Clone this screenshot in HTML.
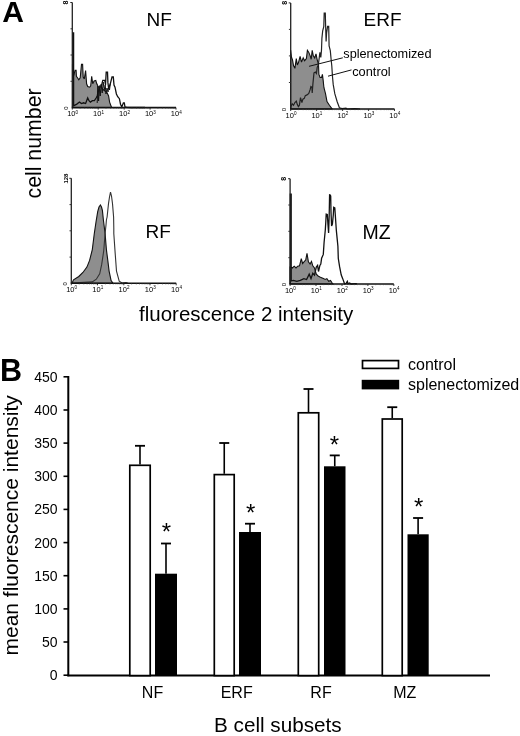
<!DOCTYPE html>
<html><head><meta charset="utf-8"><style>
html,body{margin:0;padding:0;background:#fff;width:520px;height:736px;overflow:hidden}
svg{display:block;filter:grayscale(100%)}
text{font-family:"Liberation Sans",sans-serif;fill:#000}
</style></head><body>
<svg width="520" height="736" viewBox="0 0 520 736">
<polygon points="72.5,107.5 72.5,64.0 73.7,75.6 75.1,70.2 76.1,70.2 76.4,76.3 77.5,77.7 78.8,79.7 80.2,77.7 81.5,64.4 82.6,64.4 83.2,77.0 84.3,79.0 85.6,70.5 86.6,83.8 87.7,86.5 89.7,87.2 90.7,85.8 91.7,76.3 92.7,83.8 94.1,81.0 95.8,80.4 96.8,83.8 97.8,85.8 99.0,88.0 101.0,86.5 103.0,89.5 105.0,91.0 107.0,92.5 108.6,96.0 109.6,102.1 111.6,107.5" fill="#8e8e8e" stroke="#111" stroke-width="1.1" stroke-linejoin="miter" stroke-miterlimit="3"/>
<polyline points="72.8,107.5 72.8,33.0 73.6,33.0 73.6,104.5 74.1,105.5 76.8,104.1 79.5,102.1 81.5,103.5 83.6,102.8 85.6,103.5 87.7,98.0 89.0,100.7 90.4,102.1 92.4,100.7 94.4,100.7 96.1,98.0 97.2,96.0 98.5,90.5 99.9,85.8 101.4,85.8 102.8,80.4 104.8,80.4 105.5,85.0 106.2,72.2 107.5,72.2 107.9,82.4 108.6,88.5 110.3,83.8 112.0,77.0 113.3,77.0 114.0,85.1 115.0,87.2 116.4,94.0 117.7,96.7 119.4,98.7 120.5,104.2 121.8,106.9 123.4,102.8 124.3,102.8 125.0,107.0 127.0,107.3 130.0,107.5 140.0,107.3 145.0,107.5" fill="none" stroke="#111" stroke-width="1.3" stroke-linejoin="miter" stroke-miterlimit="3"/>
<polygon points="290.6,109.0 290.6,50.0 291.5,57.2 292.5,60.0 293.5,65.5 294.9,68.3 296.3,58.6 297.3,64.9 298.4,62.8 300.1,56.5 301.5,62.1 303.2,57.9 304.6,60.7 306.4,58.6 307.4,50.3 308.8,52.4 310.2,55.9 311.2,59.3 312.2,50.3 313.3,55.9 314.7,57.9 316.0,53.8 317.1,59.3 318.5,64.3 318.9,74.4 320.1,77.5 321.6,77.5 322.4,74.4 323.2,80.6 323.9,87.5 325.5,93.7 327.0,101.5 329.4,105.3 331.7,108.4 332.5,109.0" fill="#8e8e8e" stroke="#111" stroke-width="1.1" stroke-linejoin="miter" stroke-miterlimit="3"/>
<polyline points="290.8,108.5 290.8,106.7 292.2,103.9 293.5,105.3 294.9,102.5 296.3,101.2 297.3,104.6 298.4,106.7 299.4,105.3 300.5,97.7 301.9,102.5 302.9,99.1 304.3,98.4 305.3,95.6 307.0,94.9 308.8,93.5 310.2,89.4 310.9,86.6 311.9,87.3 312.2,92.9 312.9,83.9 313.6,76.9 314.0,72.8 315.4,72.1 316.4,73.5 317.2,67.3 318.3,65.0 319.9,52.4 320.8,57.5 321.5,49.9 321.9,38.4 322.7,30.8 323.8,26.3 324.2,13.0 325.3,13.0 325.6,25.0 326.1,41.5 326.6,33.0 327.6,26.3 328.7,26.3 329.1,46.0 330.3,50.6 331.0,58.2 331.8,66.0 332.5,76.7 333.2,84.4 334.8,93.7 337.1,101.5 339.4,107.7 342.0,108.6 346.0,108.2 347.0,109.0 355.0,108.7 360.0,109.0" fill="none" stroke="#222" stroke-width="1.2" stroke-linejoin="miter" stroke-miterlimit="3"/>
<polygon points="72.0,283.3 73.5,279.9 78.8,276.5 82.9,272.5 86.9,267.1 89.6,260.4 92.3,249.6 94.3,233.5 96.0,222.0 97.7,211.7 99.0,207.0 100.4,205.0 101.5,207.0 102.4,210.4 103.4,220.0 105.1,233.5 106.4,249.6 107.8,260.4 109.1,271.1 111.1,280.6 113.0,283.3" fill="#8e8e8e" stroke="#111" stroke-width="1.1" stroke-linejoin="miter" stroke-miterlimit="3"/>
<polyline points="72.0,283.3 80.0,282.5 92.3,281.9 96.3,279.2 99.7,273.8 101.7,264.4 103.7,251.0 105.1,233.5 106.0,225.0 106.4,220.0 107.1,217.0 108.5,203.6 109.5,197.0 110.5,192.2 111.5,196.0 112.5,203.6 113.6,217.0 113.8,228.0 113.8,233.5 115.2,253.6 116.5,271.1 119.2,281.2 122.0,283.0 126.0,282.5 128.0,283.3" fill="none" stroke="#333" stroke-width="1.1" stroke-linejoin="miter" stroke-miterlimit="3"/>
<polygon points="290.1,284.0 290.1,267.1 290.7,267.1 292.4,268.0 294.2,266.2 296.0,268.0 297.7,266.2 299.5,265.8 301.3,258.7 302.6,263.6 304.4,261.4 305.7,260.0 307.0,253.4 308.4,261.8 310.1,264.0 311.5,261.4 312.8,265.8 314.5,268.0 316.3,274.2 318.1,276.0 319.9,276.9 321.6,277.7 323.4,278.6 325.2,279.5 326.9,278.6 328.7,281.3 330.5,280.4 332.2,283.0 333.0,284.0" fill="#8e8e8e" stroke="#111" stroke-width="1.1" stroke-linejoin="miter" stroke-miterlimit="3"/>
<polyline points="290.3,284.0 290.3,194.2 291.2,194.2 291.2,281.0 293.3,280.4 296.8,281.3 300.3,280.4 303.9,278.6 306.6,279.5 309.2,274.2 311.0,278.6 312.8,273.3 314.5,275.1 316.3,267.1 317.6,265.4 318.5,271.5 319.9,265.4 320.8,264.0 321.6,258.3 322.4,256.5 323.3,254.4 324.1,242.2 325.3,230.0 325.8,222.0 326.2,214.2 327.3,214.5 328.0,225.0 328.6,233.0 329.2,215.0 329.6,194.3 330.7,196.0 331.0,212.0 331.6,226.0 332.4,224.0 333.3,215.0 333.7,207.4 334.8,208.0 335.3,215.0 336.3,230.0 337.1,238.1 337.9,246.3 338.3,258.5 339.6,266.7 341.2,274.8 342.8,278.9 344.0,282.2 344.6,284.0 346.0,283.5 347.3,281.3 348.0,283.8 349.7,283.0 351.0,284.0 356.0,283.6 357.0,284.0" fill="none" stroke="#111" stroke-width="1.3" stroke-linejoin="miter" stroke-miterlimit="3"/>
<line x1="72.3" y1="2.5" x2="72.3" y2="107.6" stroke="#222" stroke-width="1.3"/>
<line x1="70.3" y1="2.5" x2="72.3" y2="2.5" stroke="#222" stroke-width="1"/>
<line x1="70.5" y1="28.8" x2="72.3" y2="28.8" stroke="#333" stroke-width="1"/>
<line x1="70.5" y1="55.0" x2="72.3" y2="55.0" stroke="#333" stroke-width="1"/>
<line x1="70.5" y1="81.3" x2="72.3" y2="81.3" stroke="#333" stroke-width="1"/>
<line x1="71.7" y1="107.6" x2="176" y2="107.6" stroke="#111" stroke-width="1.6"/>
<line x1="72.3" y1="107.6" x2="72.3" y2="109.6" stroke="#222" stroke-width="0.9"/>
<text x="72.6" y="116.3" font-size="7.5" text-anchor="middle" fill="#222">10<tspan font-size="4.6" dy="-2.8">0</tspan></text>
<line x1="98.2" y1="107.6" x2="98.2" y2="109.6" stroke="#222" stroke-width="0.9"/>
<text x="98.5" y="116.3" font-size="7.5" text-anchor="middle" fill="#222">10<tspan font-size="4.6" dy="-2.8">1</tspan></text>
<line x1="124.2" y1="107.6" x2="124.2" y2="109.6" stroke="#222" stroke-width="0.9"/>
<text x="124.5" y="116.3" font-size="7.5" text-anchor="middle" fill="#222">10<tspan font-size="4.6" dy="-2.8">2</tspan></text>
<line x1="150.1" y1="107.6" x2="150.1" y2="109.6" stroke="#222" stroke-width="0.9"/>
<text x="150.4" y="116.3" font-size="7.5" text-anchor="middle" fill="#222">10<tspan font-size="4.6" dy="-2.8">3</tspan></text>
<line x1="176.0" y1="107.6" x2="176.0" y2="109.6" stroke="#222" stroke-width="0.9"/>
<text x="176.3" y="116.3" font-size="7.5" text-anchor="middle" fill="#222">10<tspan font-size="4.6" dy="-2.8">4</tspan></text>
<line x1="80.1" y1="107.6" x2="80.1" y2="108.8" stroke="#444" stroke-width="0.6"/>
<line x1="84.7" y1="107.6" x2="84.7" y2="108.8" stroke="#444" stroke-width="0.6"/>
<line x1="87.9" y1="107.6" x2="87.9" y2="108.8" stroke="#444" stroke-width="0.6"/>
<line x1="90.4" y1="107.6" x2="90.4" y2="108.8" stroke="#444" stroke-width="0.6"/>
<line x1="92.5" y1="107.6" x2="92.5" y2="108.8" stroke="#444" stroke-width="0.6"/>
<line x1="94.2" y1="107.6" x2="94.2" y2="108.8" stroke="#444" stroke-width="0.6"/>
<line x1="95.7" y1="107.6" x2="95.7" y2="108.8" stroke="#444" stroke-width="0.6"/>
<line x1="97.0" y1="107.6" x2="97.0" y2="108.8" stroke="#444" stroke-width="0.6"/>
<line x1="106.0" y1="107.6" x2="106.0" y2="108.8" stroke="#444" stroke-width="0.6"/>
<line x1="110.6" y1="107.6" x2="110.6" y2="108.8" stroke="#444" stroke-width="0.6"/>
<line x1="113.8" y1="107.6" x2="113.8" y2="108.8" stroke="#444" stroke-width="0.6"/>
<line x1="116.3" y1="107.6" x2="116.3" y2="108.8" stroke="#444" stroke-width="0.6"/>
<line x1="118.4" y1="107.6" x2="118.4" y2="108.8" stroke="#444" stroke-width="0.6"/>
<line x1="120.1" y1="107.6" x2="120.1" y2="108.8" stroke="#444" stroke-width="0.6"/>
<line x1="121.6" y1="107.6" x2="121.6" y2="108.8" stroke="#444" stroke-width="0.6"/>
<line x1="123.0" y1="107.6" x2="123.0" y2="108.8" stroke="#444" stroke-width="0.6"/>
<line x1="132.0" y1="107.6" x2="132.0" y2="108.8" stroke="#444" stroke-width="0.6"/>
<line x1="136.5" y1="107.6" x2="136.5" y2="108.8" stroke="#444" stroke-width="0.6"/>
<line x1="139.8" y1="107.6" x2="139.8" y2="108.8" stroke="#444" stroke-width="0.6"/>
<line x1="142.3" y1="107.6" x2="142.3" y2="108.8" stroke="#444" stroke-width="0.6"/>
<line x1="144.3" y1="107.6" x2="144.3" y2="108.8" stroke="#444" stroke-width="0.6"/>
<line x1="146.1" y1="107.6" x2="146.1" y2="108.8" stroke="#444" stroke-width="0.6"/>
<line x1="147.6" y1="107.6" x2="147.6" y2="108.8" stroke="#444" stroke-width="0.6"/>
<line x1="148.9" y1="107.6" x2="148.9" y2="108.8" stroke="#444" stroke-width="0.6"/>
<line x1="157.9" y1="107.6" x2="157.9" y2="108.8" stroke="#444" stroke-width="0.6"/>
<line x1="162.4" y1="107.6" x2="162.4" y2="108.8" stroke="#444" stroke-width="0.6"/>
<line x1="165.7" y1="107.6" x2="165.7" y2="108.8" stroke="#444" stroke-width="0.6"/>
<line x1="168.2" y1="107.6" x2="168.2" y2="108.8" stroke="#444" stroke-width="0.6"/>
<line x1="170.2" y1="107.6" x2="170.2" y2="108.8" stroke="#444" stroke-width="0.6"/>
<line x1="172.0" y1="107.6" x2="172.0" y2="108.8" stroke="#444" stroke-width="0.6"/>
<line x1="173.5" y1="107.6" x2="173.5" y2="108.8" stroke="#444" stroke-width="0.6"/>
<line x1="174.8" y1="107.6" x2="174.8" y2="108.8" stroke="#444" stroke-width="0.6"/>
<text transform="translate(67.8,108.1) rotate(-90)" font-size="6" text-anchor="middle" fill="#222">0</text>
<text transform="translate(65.7,2.5) rotate(-90)" font-size="7" font-weight="bold" text-anchor="middle" dominant-baseline="central" fill="#222">8</text>
<line x1="290.7" y1="2.9" x2="290.7" y2="109" stroke="#222" stroke-width="1.3"/>
<line x1="288.7" y1="2.9" x2="290.7" y2="2.9" stroke="#222" stroke-width="1"/>
<line x1="288.9" y1="29.4" x2="290.7" y2="29.4" stroke="#333" stroke-width="1"/>
<line x1="288.9" y1="55.9" x2="290.7" y2="55.9" stroke="#333" stroke-width="1"/>
<line x1="288.9" y1="82.5" x2="290.7" y2="82.5" stroke="#333" stroke-width="1"/>
<line x1="290.09999999999997" y1="109" x2="394.5" y2="109" stroke="#111" stroke-width="1.6"/>
<line x1="290.7" y1="109" x2="290.7" y2="111" stroke="#222" stroke-width="0.9"/>
<text x="291.0" y="117.7" font-size="7.5" text-anchor="middle" fill="#222">10<tspan font-size="4.6" dy="-2.8">0</tspan></text>
<line x1="316.6" y1="109" x2="316.6" y2="111" stroke="#222" stroke-width="0.9"/>
<text x="316.9" y="117.7" font-size="7.5" text-anchor="middle" fill="#222">10<tspan font-size="4.6" dy="-2.8">1</tspan></text>
<line x1="342.6" y1="109" x2="342.6" y2="111" stroke="#222" stroke-width="0.9"/>
<text x="342.9" y="117.7" font-size="7.5" text-anchor="middle" fill="#222">10<tspan font-size="4.6" dy="-2.8">2</tspan></text>
<line x1="368.6" y1="109" x2="368.6" y2="111" stroke="#222" stroke-width="0.9"/>
<text x="368.9" y="117.7" font-size="7.5" text-anchor="middle" fill="#222">10<tspan font-size="4.6" dy="-2.8">3</tspan></text>
<line x1="394.5" y1="109" x2="394.5" y2="111" stroke="#222" stroke-width="0.9"/>
<text x="394.8" y="117.7" font-size="7.5" text-anchor="middle" fill="#222">10<tspan font-size="4.6" dy="-2.8">4</tspan></text>
<line x1="298.5" y1="109" x2="298.5" y2="110.2" stroke="#444" stroke-width="0.6"/>
<line x1="303.1" y1="109" x2="303.1" y2="110.2" stroke="#444" stroke-width="0.6"/>
<line x1="306.3" y1="109" x2="306.3" y2="110.2" stroke="#444" stroke-width="0.6"/>
<line x1="308.8" y1="109" x2="308.8" y2="110.2" stroke="#444" stroke-width="0.6"/>
<line x1="310.9" y1="109" x2="310.9" y2="110.2" stroke="#444" stroke-width="0.6"/>
<line x1="312.6" y1="109" x2="312.6" y2="110.2" stroke="#444" stroke-width="0.6"/>
<line x1="314.1" y1="109" x2="314.1" y2="110.2" stroke="#444" stroke-width="0.6"/>
<line x1="315.5" y1="109" x2="315.5" y2="110.2" stroke="#444" stroke-width="0.6"/>
<line x1="324.5" y1="109" x2="324.5" y2="110.2" stroke="#444" stroke-width="0.6"/>
<line x1="329.0" y1="109" x2="329.0" y2="110.2" stroke="#444" stroke-width="0.6"/>
<line x1="332.3" y1="109" x2="332.3" y2="110.2" stroke="#444" stroke-width="0.6"/>
<line x1="334.8" y1="109" x2="334.8" y2="110.2" stroke="#444" stroke-width="0.6"/>
<line x1="336.8" y1="109" x2="336.8" y2="110.2" stroke="#444" stroke-width="0.6"/>
<line x1="338.6" y1="109" x2="338.6" y2="110.2" stroke="#444" stroke-width="0.6"/>
<line x1="340.1" y1="109" x2="340.1" y2="110.2" stroke="#444" stroke-width="0.6"/>
<line x1="341.4" y1="109" x2="341.4" y2="110.2" stroke="#444" stroke-width="0.6"/>
<line x1="350.4" y1="109" x2="350.4" y2="110.2" stroke="#444" stroke-width="0.6"/>
<line x1="355.0" y1="109" x2="355.0" y2="110.2" stroke="#444" stroke-width="0.6"/>
<line x1="358.2" y1="109" x2="358.2" y2="110.2" stroke="#444" stroke-width="0.6"/>
<line x1="360.7" y1="109" x2="360.7" y2="110.2" stroke="#444" stroke-width="0.6"/>
<line x1="362.8" y1="109" x2="362.8" y2="110.2" stroke="#444" stroke-width="0.6"/>
<line x1="364.5" y1="109" x2="364.5" y2="110.2" stroke="#444" stroke-width="0.6"/>
<line x1="366.0" y1="109" x2="366.0" y2="110.2" stroke="#444" stroke-width="0.6"/>
<line x1="367.4" y1="109" x2="367.4" y2="110.2" stroke="#444" stroke-width="0.6"/>
<line x1="376.4" y1="109" x2="376.4" y2="110.2" stroke="#444" stroke-width="0.6"/>
<line x1="380.9" y1="109" x2="380.9" y2="110.2" stroke="#444" stroke-width="0.6"/>
<line x1="384.2" y1="109" x2="384.2" y2="110.2" stroke="#444" stroke-width="0.6"/>
<line x1="386.7" y1="109" x2="386.7" y2="110.2" stroke="#444" stroke-width="0.6"/>
<line x1="388.7" y1="109" x2="388.7" y2="110.2" stroke="#444" stroke-width="0.6"/>
<line x1="390.5" y1="109" x2="390.5" y2="110.2" stroke="#444" stroke-width="0.6"/>
<line x1="392.0" y1="109" x2="392.0" y2="110.2" stroke="#444" stroke-width="0.6"/>
<line x1="393.3" y1="109" x2="393.3" y2="110.2" stroke="#444" stroke-width="0.6"/>
<text transform="translate(286.2,109.5) rotate(-90)" font-size="6" text-anchor="middle" fill="#222">0</text>
<text transform="translate(284.09999999999997,2.9) rotate(-90)" font-size="7" font-weight="bold" text-anchor="middle" dominant-baseline="central" fill="#222">8</text>
<line x1="71.3" y1="178.3" x2="71.3" y2="283.3" stroke="#222" stroke-width="1.3"/>
<line x1="69.3" y1="178.3" x2="71.3" y2="178.3" stroke="#222" stroke-width="1"/>
<line x1="69.5" y1="204.6" x2="71.3" y2="204.6" stroke="#333" stroke-width="1"/>
<line x1="69.5" y1="230.8" x2="71.3" y2="230.8" stroke="#333" stroke-width="1"/>
<line x1="69.5" y1="257.1" x2="71.3" y2="257.1" stroke="#333" stroke-width="1"/>
<line x1="70.7" y1="283.3" x2="176.2" y2="283.3" stroke="#111" stroke-width="1.6"/>
<line x1="71.3" y1="283.3" x2="71.3" y2="285.3" stroke="#222" stroke-width="0.9"/>
<text x="71.6" y="292.0" font-size="7.5" text-anchor="middle" fill="#222">10<tspan font-size="4.6" dy="-2.8">0</tspan></text>
<line x1="97.5" y1="283.3" x2="97.5" y2="285.3" stroke="#222" stroke-width="0.9"/>
<text x="97.8" y="292.0" font-size="7.5" text-anchor="middle" fill="#222">10<tspan font-size="4.6" dy="-2.8">1</tspan></text>
<line x1="123.8" y1="283.3" x2="123.8" y2="285.3" stroke="#222" stroke-width="0.9"/>
<text x="124.0" y="292.0" font-size="7.5" text-anchor="middle" fill="#222">10<tspan font-size="4.6" dy="-2.8">2</tspan></text>
<line x1="150.0" y1="283.3" x2="150.0" y2="285.3" stroke="#222" stroke-width="0.9"/>
<text x="150.3" y="292.0" font-size="7.5" text-anchor="middle" fill="#222">10<tspan font-size="4.6" dy="-2.8">3</tspan></text>
<line x1="176.2" y1="283.3" x2="176.2" y2="285.3" stroke="#222" stroke-width="0.9"/>
<text x="176.5" y="292.0" font-size="7.5" text-anchor="middle" fill="#222">10<tspan font-size="4.6" dy="-2.8">4</tspan></text>
<line x1="79.2" y1="283.3" x2="79.2" y2="284.5" stroke="#444" stroke-width="0.6"/>
<line x1="83.8" y1="283.3" x2="83.8" y2="284.5" stroke="#444" stroke-width="0.6"/>
<line x1="87.1" y1="283.3" x2="87.1" y2="284.5" stroke="#444" stroke-width="0.6"/>
<line x1="89.6" y1="283.3" x2="89.6" y2="284.5" stroke="#444" stroke-width="0.6"/>
<line x1="91.7" y1="283.3" x2="91.7" y2="284.5" stroke="#444" stroke-width="0.6"/>
<line x1="93.5" y1="283.3" x2="93.5" y2="284.5" stroke="#444" stroke-width="0.6"/>
<line x1="95.0" y1="283.3" x2="95.0" y2="284.5" stroke="#444" stroke-width="0.6"/>
<line x1="96.3" y1="283.3" x2="96.3" y2="284.5" stroke="#444" stroke-width="0.6"/>
<line x1="105.4" y1="283.3" x2="105.4" y2="284.5" stroke="#444" stroke-width="0.6"/>
<line x1="110.0" y1="283.3" x2="110.0" y2="284.5" stroke="#444" stroke-width="0.6"/>
<line x1="113.3" y1="283.3" x2="113.3" y2="284.5" stroke="#444" stroke-width="0.6"/>
<line x1="115.9" y1="283.3" x2="115.9" y2="284.5" stroke="#444" stroke-width="0.6"/>
<line x1="117.9" y1="283.3" x2="117.9" y2="284.5" stroke="#444" stroke-width="0.6"/>
<line x1="119.7" y1="283.3" x2="119.7" y2="284.5" stroke="#444" stroke-width="0.6"/>
<line x1="121.2" y1="283.3" x2="121.2" y2="284.5" stroke="#444" stroke-width="0.6"/>
<line x1="122.6" y1="283.3" x2="122.6" y2="284.5" stroke="#444" stroke-width="0.6"/>
<line x1="131.6" y1="283.3" x2="131.6" y2="284.5" stroke="#444" stroke-width="0.6"/>
<line x1="136.3" y1="283.3" x2="136.3" y2="284.5" stroke="#444" stroke-width="0.6"/>
<line x1="139.5" y1="283.3" x2="139.5" y2="284.5" stroke="#444" stroke-width="0.6"/>
<line x1="142.1" y1="283.3" x2="142.1" y2="284.5" stroke="#444" stroke-width="0.6"/>
<line x1="144.2" y1="283.3" x2="144.2" y2="284.5" stroke="#444" stroke-width="0.6"/>
<line x1="145.9" y1="283.3" x2="145.9" y2="284.5" stroke="#444" stroke-width="0.6"/>
<line x1="147.4" y1="283.3" x2="147.4" y2="284.5" stroke="#444" stroke-width="0.6"/>
<line x1="148.8" y1="283.3" x2="148.8" y2="284.5" stroke="#444" stroke-width="0.6"/>
<line x1="157.9" y1="283.3" x2="157.9" y2="284.5" stroke="#444" stroke-width="0.6"/>
<line x1="162.5" y1="283.3" x2="162.5" y2="284.5" stroke="#444" stroke-width="0.6"/>
<line x1="165.8" y1="283.3" x2="165.8" y2="284.5" stroke="#444" stroke-width="0.6"/>
<line x1="168.3" y1="283.3" x2="168.3" y2="284.5" stroke="#444" stroke-width="0.6"/>
<line x1="170.4" y1="283.3" x2="170.4" y2="284.5" stroke="#444" stroke-width="0.6"/>
<line x1="172.1" y1="283.3" x2="172.1" y2="284.5" stroke="#444" stroke-width="0.6"/>
<line x1="173.7" y1="283.3" x2="173.7" y2="284.5" stroke="#444" stroke-width="0.6"/>
<line x1="175.0" y1="283.3" x2="175.0" y2="284.5" stroke="#444" stroke-width="0.6"/>
<text transform="translate(66.8,283.8) rotate(-90)" font-size="6" text-anchor="middle" fill="#222">0</text>
<text transform="translate(66.3,178.60000000000002) rotate(-90)" font-size="6" font-weight="bold" text-anchor="middle" dominant-baseline="central" fill="#222">128</text>
<line x1="290.1" y1="178.7" x2="290.1" y2="284" stroke="#222" stroke-width="1.3"/>
<line x1="288.1" y1="178.7" x2="290.1" y2="178.7" stroke="#222" stroke-width="1"/>
<line x1="288.3" y1="205.0" x2="290.1" y2="205.0" stroke="#333" stroke-width="1"/>
<line x1="288.3" y1="231.3" x2="290.1" y2="231.3" stroke="#333" stroke-width="1"/>
<line x1="288.3" y1="257.7" x2="290.1" y2="257.7" stroke="#333" stroke-width="1"/>
<line x1="289.5" y1="284" x2="393.8" y2="284" stroke="#111" stroke-width="1.6"/>
<line x1="290.1" y1="284" x2="290.1" y2="286" stroke="#222" stroke-width="0.9"/>
<text x="290.4" y="292.7" font-size="7.5" text-anchor="middle" fill="#222">10<tspan font-size="4.6" dy="-2.8">0</tspan></text>
<line x1="316.0" y1="284" x2="316.0" y2="286" stroke="#222" stroke-width="0.9"/>
<text x="316.3" y="292.7" font-size="7.5" text-anchor="middle" fill="#222">10<tspan font-size="4.6" dy="-2.8">1</tspan></text>
<line x1="342.0" y1="284" x2="342.0" y2="286" stroke="#222" stroke-width="0.9"/>
<text x="342.3" y="292.7" font-size="7.5" text-anchor="middle" fill="#222">10<tspan font-size="4.6" dy="-2.8">2</tspan></text>
<line x1="367.9" y1="284" x2="367.9" y2="286" stroke="#222" stroke-width="0.9"/>
<text x="368.2" y="292.7" font-size="7.5" text-anchor="middle" fill="#222">10<tspan font-size="4.6" dy="-2.8">3</tspan></text>
<line x1="393.8" y1="284" x2="393.8" y2="286" stroke="#222" stroke-width="0.9"/>
<text x="394.1" y="292.7" font-size="7.5" text-anchor="middle" fill="#222">10<tspan font-size="4.6" dy="-2.8">4</tspan></text>
<line x1="297.9" y1="284" x2="297.9" y2="285.2" stroke="#444" stroke-width="0.6"/>
<line x1="302.5" y1="284" x2="302.5" y2="285.2" stroke="#444" stroke-width="0.6"/>
<line x1="305.7" y1="284" x2="305.7" y2="285.2" stroke="#444" stroke-width="0.6"/>
<line x1="308.2" y1="284" x2="308.2" y2="285.2" stroke="#444" stroke-width="0.6"/>
<line x1="310.3" y1="284" x2="310.3" y2="285.2" stroke="#444" stroke-width="0.6"/>
<line x1="312.0" y1="284" x2="312.0" y2="285.2" stroke="#444" stroke-width="0.6"/>
<line x1="313.5" y1="284" x2="313.5" y2="285.2" stroke="#444" stroke-width="0.6"/>
<line x1="314.8" y1="284" x2="314.8" y2="285.2" stroke="#444" stroke-width="0.6"/>
<line x1="323.8" y1="284" x2="323.8" y2="285.2" stroke="#444" stroke-width="0.6"/>
<line x1="328.4" y1="284" x2="328.4" y2="285.2" stroke="#444" stroke-width="0.6"/>
<line x1="331.6" y1="284" x2="331.6" y2="285.2" stroke="#444" stroke-width="0.6"/>
<line x1="334.1" y1="284" x2="334.1" y2="285.2" stroke="#444" stroke-width="0.6"/>
<line x1="336.2" y1="284" x2="336.2" y2="285.2" stroke="#444" stroke-width="0.6"/>
<line x1="337.9" y1="284" x2="337.9" y2="285.2" stroke="#444" stroke-width="0.6"/>
<line x1="339.4" y1="284" x2="339.4" y2="285.2" stroke="#444" stroke-width="0.6"/>
<line x1="340.8" y1="284" x2="340.8" y2="285.2" stroke="#444" stroke-width="0.6"/>
<line x1="349.8" y1="284" x2="349.8" y2="285.2" stroke="#444" stroke-width="0.6"/>
<line x1="354.3" y1="284" x2="354.3" y2="285.2" stroke="#444" stroke-width="0.6"/>
<line x1="357.6" y1="284" x2="357.6" y2="285.2" stroke="#444" stroke-width="0.6"/>
<line x1="360.1" y1="284" x2="360.1" y2="285.2" stroke="#444" stroke-width="0.6"/>
<line x1="362.1" y1="284" x2="362.1" y2="285.2" stroke="#444" stroke-width="0.6"/>
<line x1="363.9" y1="284" x2="363.9" y2="285.2" stroke="#444" stroke-width="0.6"/>
<line x1="365.4" y1="284" x2="365.4" y2="285.2" stroke="#444" stroke-width="0.6"/>
<line x1="366.7" y1="284" x2="366.7" y2="285.2" stroke="#444" stroke-width="0.6"/>
<line x1="375.7" y1="284" x2="375.7" y2="285.2" stroke="#444" stroke-width="0.6"/>
<line x1="380.2" y1="284" x2="380.2" y2="285.2" stroke="#444" stroke-width="0.6"/>
<line x1="383.5" y1="284" x2="383.5" y2="285.2" stroke="#444" stroke-width="0.6"/>
<line x1="386.0" y1="284" x2="386.0" y2="285.2" stroke="#444" stroke-width="0.6"/>
<line x1="388.0" y1="284" x2="388.0" y2="285.2" stroke="#444" stroke-width="0.6"/>
<line x1="389.8" y1="284" x2="389.8" y2="285.2" stroke="#444" stroke-width="0.6"/>
<line x1="391.3" y1="284" x2="391.3" y2="285.2" stroke="#444" stroke-width="0.6"/>
<line x1="392.6" y1="284" x2="392.6" y2="285.2" stroke="#444" stroke-width="0.6"/>
<text transform="translate(285.6,284.5) rotate(-90)" font-size="6" text-anchor="middle" fill="#222">0</text>
<text transform="translate(283.5,178.7) rotate(-90)" font-size="7" font-weight="bold" text-anchor="middle" dominant-baseline="central" fill="#222">8</text>
<polyline points="97.2,103.0 97.8,86.0 98.6,101.0 99.4,88.0 100.2,96.0 101.2,84.0 102.2,93.0 103.2,82.0 104.2,90.0 105.2,85.0 106.0,94.0 107.0,88.0 108.0,92.0 108.8,86.0 109.5,90.0 110.3,84.0" fill="none" stroke="#111" stroke-width="1"/>
<line x1="342.8" y1="57.8" x2="309.1" y2="66.3" stroke="#111" stroke-width="1"/>
<line x1="351.5" y1="69.9" x2="328" y2="76.2" stroke="#111" stroke-width="1"/>
<text x="146.6" y="25.8" font-size="19">NF</text>
<text x="363.5" y="26.2" font-size="19">ERF</text>
<text x="145.5" y="238.1" font-size="19">RF</text>
<text x="362.4" y="238.7" font-size="19.5">MZ</text>
<text x="343.3" y="58" font-size="12.7">splenectomized</text>
<text x="352.2" y="76.2" font-size="12.8">control</text>
<text x="2.2" y="22.4" font-size="30" font-weight="bold">A</text>
<text x="0" y="381.2" font-size="30.5" font-weight="bold">B</text>
<text transform="translate(40.9,198.5) rotate(-90)" font-size="21.3">cell number</text>
<text x="139" y="321.3" font-size="20.5">fluorescence 2 intensity</text>
<text transform="translate(18.1,655.5) rotate(-90)" font-size="21">mean fluorescence intensity</text>
<line x1="68.3" y1="376" x2="68.3" y2="676.2" stroke="#000" stroke-width="2"/>
<line x1="67.3" y1="675.6" x2="490" y2="675.6" stroke="#000" stroke-width="2"/>
<line x1="63.5" y1="675.2" x2="69" y2="675.2" stroke="#000" stroke-width="1.6"/>
<text x="57.5" y="680.2" font-size="14" text-anchor="end">0</text>
<line x1="63.5" y1="642.0" x2="69" y2="642.0" stroke="#000" stroke-width="1.6"/>
<text x="57.5" y="647.0" font-size="14" text-anchor="end">50</text>
<line x1="63.5" y1="608.9" x2="69" y2="608.9" stroke="#000" stroke-width="1.6"/>
<text x="57.5" y="613.9" font-size="14" text-anchor="end">100</text>
<line x1="63.5" y1="575.7" x2="69" y2="575.7" stroke="#000" stroke-width="1.6"/>
<text x="57.5" y="580.7" font-size="14" text-anchor="end">150</text>
<line x1="63.5" y1="542.6" x2="69" y2="542.6" stroke="#000" stroke-width="1.6"/>
<text x="57.5" y="547.6" font-size="14" text-anchor="end">200</text>
<line x1="63.5" y1="509.4" x2="69" y2="509.4" stroke="#000" stroke-width="1.6"/>
<text x="57.5" y="514.4" font-size="14" text-anchor="end">250</text>
<line x1="63.5" y1="476.3" x2="69" y2="476.3" stroke="#000" stroke-width="1.6"/>
<text x="57.5" y="481.3" font-size="14" text-anchor="end">300</text>
<line x1="63.5" y1="443.1" x2="69" y2="443.1" stroke="#000" stroke-width="1.6"/>
<text x="57.5" y="448.1" font-size="14" text-anchor="end">350</text>
<line x1="63.5" y1="410.0" x2="69" y2="410.0" stroke="#000" stroke-width="1.6"/>
<text x="57.5" y="415.0" font-size="14" text-anchor="end">400</text>
<line x1="63.5" y1="376.8" x2="69" y2="376.8" stroke="#000" stroke-width="1.6"/>
<text x="57.5" y="381.8" font-size="14" text-anchor="end">450</text>
<line x1="140.0" y1="445.8" x2="140.0" y2="464.5" stroke="#000" stroke-width="1.6"/>
<line x1="135.0" y1="445.8" x2="145.0" y2="445.8" stroke="#000" stroke-width="1.8"/>
<rect x="129.8" y="465.3" width="20.4" height="210.3" fill="#fff" stroke="#000" stroke-width="1.7"/>
<line x1="166.0" y1="543.5" x2="166.0" y2="573.7" stroke="#000" stroke-width="1.6"/>
<line x1="161.0" y1="543.5" x2="171.0" y2="543.5" stroke="#000" stroke-width="1.8"/>
<rect x="155" y="573.7" width="22" height="101.89999999999998" fill="#000"/>
<line x1="224.25" y1="443" x2="224.25" y2="473.8" stroke="#000" stroke-width="1.6"/>
<line x1="219.25" y1="443" x2="229.25" y2="443" stroke="#000" stroke-width="1.8"/>
<rect x="214.3" y="474.6" width="19.9" height="201.0" fill="#fff" stroke="#000" stroke-width="1.7"/>
<line x1="250.0" y1="523.7" x2="250.0" y2="532" stroke="#000" stroke-width="1.6"/>
<line x1="245.0" y1="523.7" x2="255.0" y2="523.7" stroke="#000" stroke-width="1.8"/>
<rect x="239" y="532" width="22" height="143.60000000000002" fill="#000"/>
<line x1="308.5" y1="389" x2="308.5" y2="412" stroke="#000" stroke-width="1.6"/>
<line x1="303.5" y1="389" x2="313.5" y2="389" stroke="#000" stroke-width="1.8"/>
<rect x="298.3" y="412.8" width="20.4" height="262.8" fill="#fff" stroke="#000" stroke-width="1.7"/>
<line x1="334.75" y1="455.4" x2="334.75" y2="466.3" stroke="#000" stroke-width="1.6"/>
<line x1="329.75" y1="455.4" x2="339.75" y2="455.4" stroke="#000" stroke-width="1.8"/>
<rect x="324" y="466.3" width="21.5" height="209.3" fill="#000"/>
<line x1="392.25" y1="407.2" x2="392.25" y2="418.2" stroke="#000" stroke-width="1.6"/>
<line x1="387.25" y1="407.2" x2="397.25" y2="407.2" stroke="#000" stroke-width="1.8"/>
<rect x="382.3" y="419.0" width="19.9" height="256.6" fill="#fff" stroke="#000" stroke-width="1.7"/>
<line x1="418.1" y1="518" x2="418.1" y2="534.3" stroke="#000" stroke-width="1.6"/>
<line x1="413.1" y1="518" x2="423.1" y2="518" stroke="#000" stroke-width="1.8"/>
<rect x="407.5" y="534.3" width="21.19999999999999" height="141.30000000000007" fill="#000"/>
<text x="166.3" y="539.6" font-size="24" text-anchor="middle">*</text>
<text x="250.7" y="521.2" font-size="24" text-anchor="middle">*</text>
<text x="334.5" y="453.2" font-size="24" text-anchor="middle">*</text>
<text x="418.7" y="515.4" font-size="24" text-anchor="middle">*</text>
<text x="152.5" y="698.3" font-size="16" text-anchor="middle">NF</text>
<text x="236.7" y="698.3" font-size="16" text-anchor="middle">ERF</text>
<text x="321" y="698.3" font-size="16" text-anchor="middle">RF</text>
<text x="404.7" y="698.3" font-size="16" text-anchor="middle">MZ</text>
<text x="214" y="731.8" font-size="20.7">B cell subsets</text>
<rect x="362.5" y="360.6" width="36" height="7.8" fill="#fff" stroke="#000" stroke-width="1.7"/>
<rect x="361.7" y="379.8" width="37.5" height="9.6" fill="#000"/>
<text x="408" y="370.3" font-size="16">control</text>
<text x="408" y="389.7" font-size="16">splenectomized</text>
</svg>
</body></html>
